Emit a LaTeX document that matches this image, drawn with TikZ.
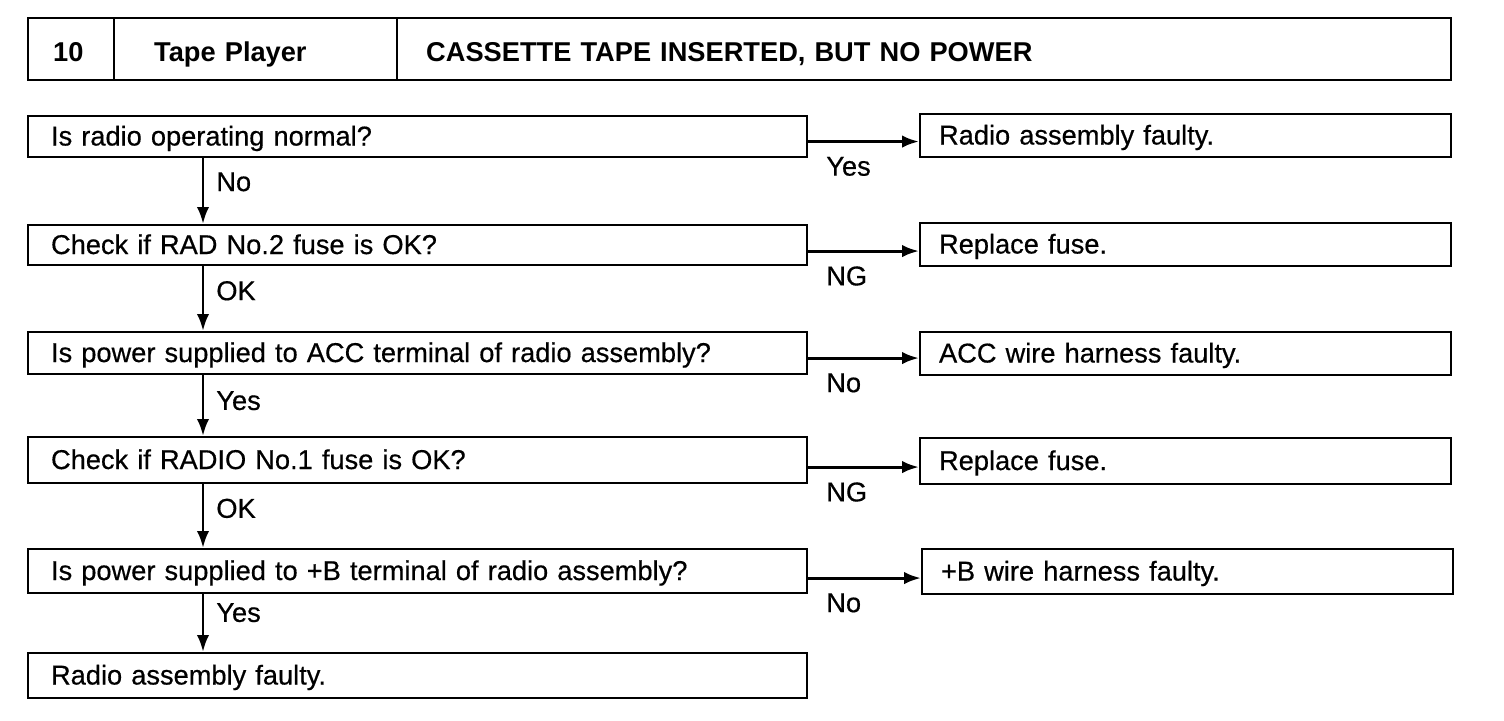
\documentclass[tikz,border=0pt]{standalone}
\usepackage{fontspec}
\setmainfont{Liberation Sans}
\newfontfamily\bodyfont{Liberation Sans}[FakeBold=0.5]
\usetikzlibrary{arrows.meta}
\newcommand{\flowfont}{\fontsize{15.5}{18}\selectfont}
\tikzset{
  cell/.style={draw, line width=1.4pt, anchor=north west, inner ysep=0pt, minimum height=1.24cm,
    font=\flowfont\bfseries, text height=15.5pt, text depth=1.9pt, align=left},
  qbox/.style={draw, line width=1.2pt, anchor=north west, inner ysep=0pt, inner xsep=0.46cm,
    text width=14.66cm, align=left, text height=14pt, text depth=3.8pt},
  rbox/.style={qbox, inner xsep=0.38cm, text width=9.86cm},
  arr/.style={line width=1.7pt, -{Latex[length=0.34cm,width=0.25cm]}},
  ans/.style={inner sep=0.333em},
}

\begin{document}
\begin{tikzpicture}[x=0.02cm, y=-0.02cm, font=\flowfont\bodyfont]
    \useasboundingbox (0,0) rectangle (1504,720);

    % 标题栏
    \node[cell, text width=0.72cm, inner xsep=0.5cm] (hnum) at (27,17) {10};
    \node[cell, text width=4.06cm, inner xsep=0.8cm] (hsys) at (113,17) {Tape Player};
    \node[cell, text width=19.92cm, inner xsep=0.58cm] (hsym) at (396,17) {CASSETTE TAPE INSERTED, BUT NO POWER};

    % 左列: 检查步骤
    \node[qbox, minimum height=0.82cm] (q1) at (27,115) {Is radio operating normal?};
    \node[qbox, minimum height=0.80cm] (q2) at (27,224) {Check if RAD No.2 fuse is OK?};
    \node[qbox, minimum height=0.84cm] (q3) at (27,331) {Is power supplied to ACC terminal of radio assembly?};
    \node[qbox, minimum height=0.92cm] (q4) at (27,436) {Check if RADIO No.1 fuse is OK?};
    \node[qbox, minimum height=0.88cm] (q5) at (27,548) {Is power supplied to +B terminal of radio assembly?};
    \node[qbox, minimum height=0.90cm] (q6) at (27,652) {Radio assembly faulty.};

    % 右列: 处理结果
    \node[rbox, minimum height=0.86cm] (r1) at (919,113) {Radio assembly faulty.};
    \node[rbox, minimum height=0.86cm] (r2) at (919,222) {Replace fuse.};
    \node[rbox, minimum height=0.86cm] (r3) at (919,331) {ACC wire harness faulty.};
    \node[rbox, minimum height=0.92cm] (r4) at (919,437) {Replace fuse.};
    \node[rbox, minimum height=0.90cm] (r5) at (921,548) {+B wire harness faulty.};

    % 竖向箭头
    \coordinate (spine) at (203,0);
    \draw[arr] (q1.south -| spine) -- node[ans, pos=0.36, anchor=west, xshift=0.12cm] {No} (q2.north -| spine);
    \draw[arr] (q2.south -| spine) -- node[ans, pos=0.38, anchor=west, xshift=0.12cm] {OK} (q3.north -| spine);
    \draw[arr] (q3.south -| spine) -- node[ans, pos=0.42, anchor=west, xshift=0.12cm] {Yes} (q4.north -| spine);
    \draw[arr] (q4.south -| spine) -- node[ans, pos=0.38, anchor=west, xshift=0.12cm] {OK} (q5.north -| spine);
    \draw[arr] (q5.south -| spine) -- node[ans, pos=0.32, anchor=west, xshift=0.12cm] {Yes} (q6.north -| spine);

    % 横向箭头
    \coordinate (a1) at ([yshift=-0.1cm]q1.east);
    \coordinate (a2) at ([yshift=-0.12cm]q2.east);
    \coordinate (a3) at ([yshift=-0.1cm]q3.east);
    \coordinate (a4) at ([yshift=-0.14cm]q4.east);
    \coordinate (a5) at ([yshift=-0.14cm]q5.east);
    \draw[arr] (a1) -- (a1 -| r1.west) node[ans, pos=0, anchor=north west, xshift=0.22cm, yshift=-0.16cm] {Yes};
    \draw[arr] (a2) -- (a2 -| r2.west) node[ans, pos=0, anchor=north west, xshift=0.22cm, yshift=-0.16cm] {NG};
    \draw[arr] (a3) -- (a3 -| r3.west) node[ans, pos=0, anchor=north west, xshift=0.22cm, yshift=-0.16cm] {No};
    \draw[arr] (a4) -- (a4 -| r4.west) node[ans, pos=0, anchor=north west, xshift=0.22cm, yshift=-0.16cm] {NG};
    \draw[arr] (a5) -- (a5 -| r5.west) node[ans, pos=0, anchor=north west, xshift=0.22cm, yshift=-0.16cm] {No};

\end{tikzpicture}
\end{document}
